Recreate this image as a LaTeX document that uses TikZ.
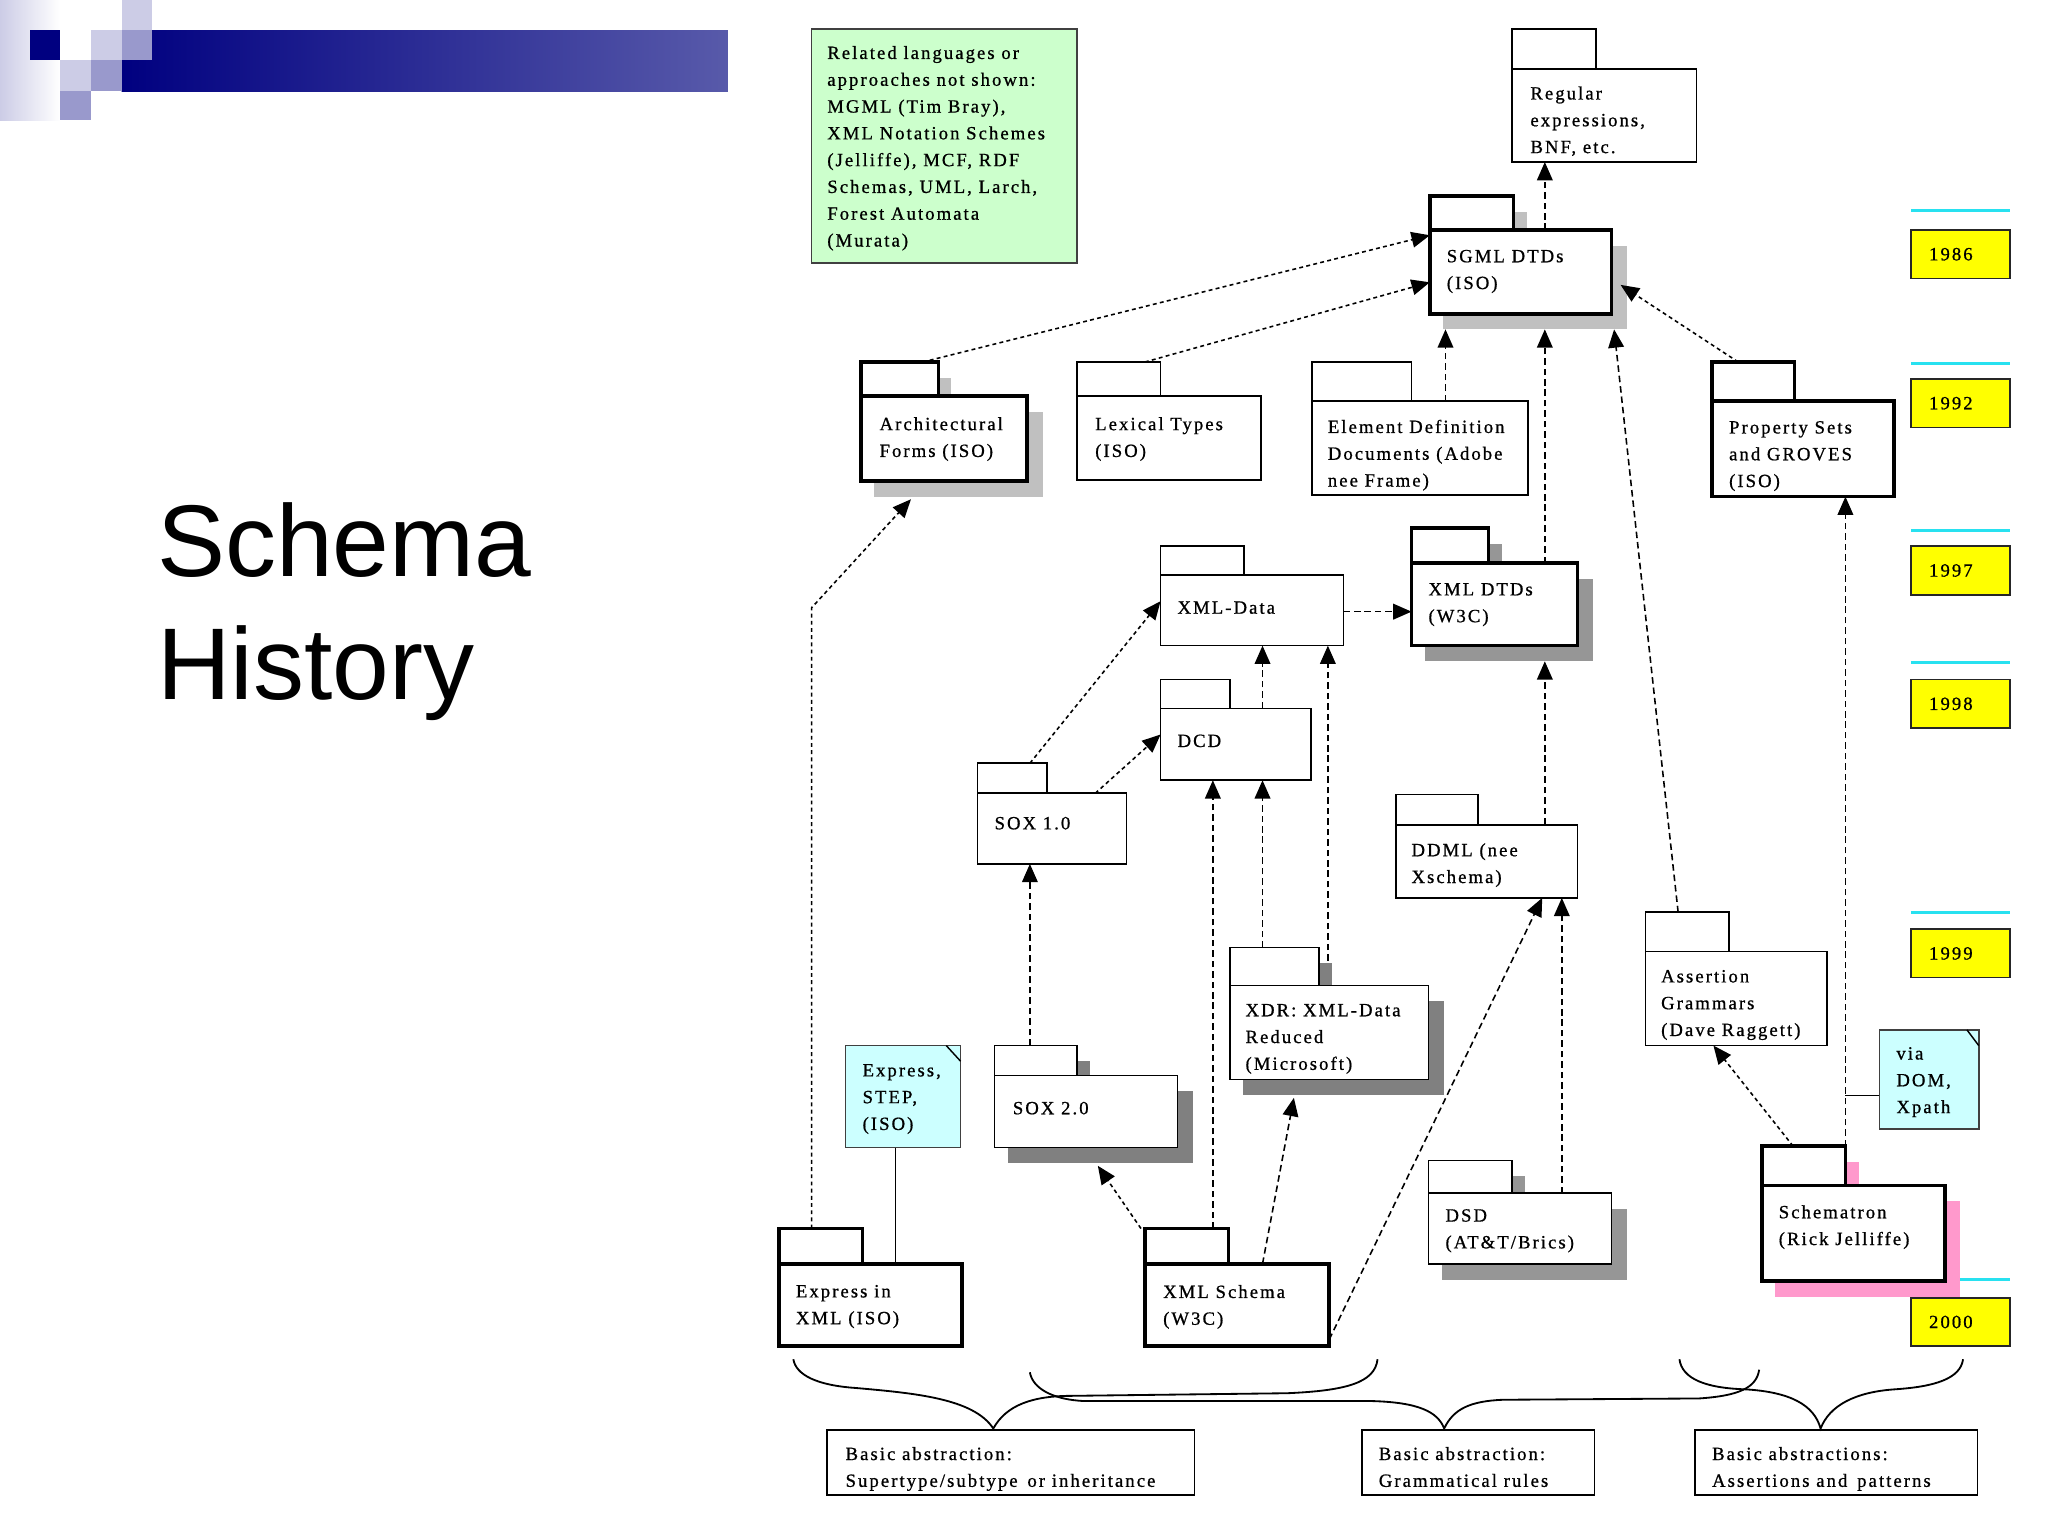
\documentclass[tikz,border=0pt]{standalone}
\usepackage{fontspec}
\setmainfont{Liberation Serif}
\newfontfamily\titlefont{Liberation Sans}
\newfontfamily\diafont[LetterSpace=11,FakeBold=0.8]{Liberation Serif}
\usetikzlibrary{arrows.meta,calc}
\definecolor{hdrnavy}{RGB}{0,0,128}
\definecolor{barend}{RGB}{88,90,170}
\definecolor{lav}{RGB}{204,204,230}
\definecolor{lavm}{RGB}{153,153,204}
\definecolor{notegreen}{RGB}{204,255,204}
\definecolor{notecyan}{RGB}{204,255,255}
\definecolor{yearyellow}{RGB}{255,255,0}
\definecolor{yearline}{RGB}{40,225,240}
\definecolor{shlight}{RGB}{192,192,192}
\definecolor{shmid}{RGB}{150,150,150}
\definecolor{shdark}{RGB}{128,128,128}
\definecolor{shpink}{RGB}{255,153,204}

\newcommand\pkgbox[9]{%
  \if\relax\detokenize{#9}\relax\else
    \fill[#9] (#2+10,#3+12) rectangle (#4+10,#5+12);
    \fill[#9] (#2+10,#5+12) rectangle (#6+12,#7+12);
  \fi
  \node[pkgpart,#8,anchor=north west,minimum width={(#4)-(#2)},minimum height={(#5)-(#3)}] (#1T) at (#2,#3) {};
  \node[pkgpart,#8,anchor=north west,minimum width={(#6)-(#2)},minimum height={(#7)-(#5)}] (#1) at (#2,#5) {};
}
\newcommand\pkglabel[4]{\node[lbl] (#1) at (#2,#3-4.8) {#4};}

\begin{document}
\begin{tikzpicture}[x=1pt,y=-1pt,
  pkgpart/.style={draw=black, fill=white, inner sep=0pt, outer sep=0pt, line width=1.3pt},
  heavy/.style={line width=2.8pt},
  plainbox/.style={draw=black, fill=white, inner sep=0pt, outer sep=0pt, line width=1.3pt},
  notebox/.style={draw=black!75, inner sep=0pt, outer sep=0pt, line width=1.3pt},
  lbl/.style={anchor=north west, inner sep=0pt, outer sep=0pt, align=left,
     font={\diafont\fontsize{14.3}{20.5}\selectfont}, execute at begin node=\strut},
  yearbox/.style={draw=black!85, fill=yearyellow, line width=1.3pt, anchor=north west,
     inner xsep=14pt, inner ysep=0pt, outer sep=0pt, text width=48pt, minimum height=37pt,
     align=left, font={\diafont\fontsize{14.3}{20.5}\selectfont}},
  yearrule/.style={draw=yearline, line width=2pt},
  dep/.style={dash pattern=on 5pt off 3pt, line width=1.2pt, -{Triangle[length=14pt,width=12pt]}},
  finedep/.style={dep, dash pattern=on 3pt off 2.5pt},
  link/.style={line width=1.1pt},
  brace/.style={line width=1.4pt}
]
\useasboundingbox (0,0) rectangle (1567,1175.25);

% ---------- header decoration ----------
\shade[left color=lav, right color=white] (0,0) rectangle (46,92);
\shade[left color=hdrnavy, right color=barend] (93,23) rectangle (557,70);
\fill[hdrnavy] (23,23) rectangle (46,46);
\fill[lav] (93,0) rectangle (116,23);
\fill[lav] (70,23) rectangle (93,46);
\fill[lavm] (93,23) rectangle (116,46);
\fill[lav] (46,46) rectangle (70,70);
\fill[lavm] (70,46) rectangle (93,70);
\fill[lavm] (46,70) rectangle (70,92);

% ---------- title ----------
\node[anchor=north west, inner sep=0pt, align=left,
      font={\titlefont\fontsize{78}{94}\selectfont}, execute at begin node=\strut]
      (title) at (120,450-65.8) {Schema\\History};

% ---------- year markers ----------
\draw[yearrule] (1462,161) -- (1538,161);
\draw[yearrule] (1462,278) -- (1538,278);
\draw[yearrule] (1462,406) -- (1538,406);
\draw[yearrule] (1462,507) -- (1538,507);
\draw[yearrule] (1462,698) -- (1538,698);
\draw[yearrule] (1462,979) -- (1538,979);
\node[yearbox] (y1986) at (1462,176) {1986};
\node[yearbox] (y1992) at (1462,290) {1992};
\node[yearbox] (y1997) at (1462,418) {1997};
\node[yearbox] (y1998) at (1462,520) {1998};
\node[yearbox] (y1999) at (1462,711) {1999};
\node[yearbox] (y2000) at (1462,993) {2000};

% ---------- notes ----------
\node[notebox, fill=notegreen, minimum width=203, minimum height=179, anchor=north west] (related) at (621,22) {};
\pkglabel{relatedtxt}{633}{40}{Related languages or\\approaches not shown:\\MGML (Tim Bray),\\XML Notation Schemes\\(Jelliffe), MCF, RDF\\Schemas, UML, Larch,\\Forest Automata\\(Murata)}

\node[notebox, fill=notecyan, minimum width=88, minimum height=78, anchor=north west] (expnote) at (647,800) {};
\draw[link] ($(expnote.north east)+(-11,0)$) -- ($(expnote.north east)+(0,12)$);
\pkglabel{expnotetxt}{660}{819}{Express,\\STEP,\\(ISO)}

\node[notebox, fill=notecyan, minimum width=76, minimum height=76, anchor=north west] (via) at (1438,788) {};
\draw[link] ($(via.north east)+(-9,0)$) -- ($(via.north east)+(0,12)$);
\pkglabel{viatxt}{1451}{806}{via\\DOM,\\Xpath}

% ---------- packages ----------
\pkgbox{regex}{1157}{22}{1221}{53}{1298}{124}{}{}
\pkglabel{regextxt}{1171}{71}{Regular\\expressions,\\BNF, etc.}

\pkgbox{sgml}{1094}{150}{1158}{176}{1233}{240}{heavy}{shlight}
\pkglabel{sgmltxt}{1107}{196}{SGML DTDs\\(ISO)}

\pkgbox{arch}{659}{277}{718}{303}{786}{368}{heavy}{shlight}
\pkglabel{archtxt}{673}{324}{Architectural\\Forms (ISO)}

\pkgbox{lex}{824}{277}{888}{303}{965}{367}{}{}
\pkglabel{lextxt}{838}{324}{Lexical Types\\(ISO)}

\pkgbox{edd}{1004}{277}{1080}{307}{1169}{379}{}{}
\pkglabel{eddtxt}{1016}{326}{Element Definition\\Documents (Adobe\\nee Frame)}

\pkgbox{prop}{1310}{277}{1373}{307}{1449}{380}{heavy}{}
\pkglabel{proptxt}{1323}{327}{Property Sets\\and GROVES\\(ISO)}

\pkgbox{xmldata}{888}{418}{952}{440}{1028}{494}{}{}
\pkglabel{xmldatatxt}{901}{460}{XML-Data}

\pkgbox{xmldtd}{1080}{404}{1139}{431}{1207}{494}{heavy}{shmid}
\pkglabel{xmldtdtxt}{1093}{451}{XML DTDs\\(W3C)}

\pkgbox{dcd}{888}{520}{941}{542}{1003}{597}{}{}
\pkglabel{dcdtxt}{901}{562}{DCD}

\pkgbox{sox1}{748}{584}{801}{607}{862}{661}{}{}
\pkglabel{sox1txt}{761}{625}{SOX 1.0}

\pkgbox{ddml}{1068}{608}{1131}{631}{1207}{687}{}{}
\pkglabel{ddmltxt}{1080}{650}{DDML (nee\\Xschema)}

\pkgbox{xdr}{941}{725}{1009}{754}{1093}{826}{}{shdark}
\pkglabel{xdrtxt}{953}{773}{XDR: XML-Data\\Reduced\\(Microsoft)}

\pkgbox{assert}{1259}{698}{1323}{728}{1398}{800}{}{}
\pkglabel{asserttxt}{1271}{747}{Assertion\\Grammars\\(Dave Raggett)}

\pkgbox{sox2}{761}{800}{824}{823}{901}{878}{}{shdark}
\pkglabel{sox2txt}{775}{843}{SOX 2.0}

\pkgbox{expxml}{596}{940}{660}{967}{736}{1030}{heavy}{}
\pkglabel{expxmltxt}{609}{988}{Express in\\XML (ISO)}

\pkgbox{xsd}{876}{940}{940}{967}{1017}{1030}{heavy}{}
\pkglabel{xsdtxt}{890}{988}{XML Schema\\(W3C)}

\pkgbox{dsd}{1093}{888}{1157}{913}{1233}{967}{}{shmid}
\pkglabel{dsdtxt}{1106}{930}{DSD\\(AT\&T/Brics)}

\pkgbox{sch}{1348}{877}{1412}{907}{1488}{980}{heavy}{shpink}
\pkglabel{schtxt}{1361}{927}{Schematron\\(Rick Jelliffe)}

% ---------- bottom boxes ----------
\node[plainbox, minimum width=281, minimum height=50, anchor=north west] (basic1) at (633,1094) {};
\pkglabel{basic1txt}{647}{1112}{Basic abstraction:\\Supertype/subtype\, or inheritance}
\node[plainbox, minimum width=178, minimum height=50, anchor=north west] (basic2) at (1042,1094) {};
\pkglabel{basic2txt}{1055}{1112}{Basic abstraction:\\Grammatical rules}
\node[plainbox, minimum width=216, minimum height=50, anchor=north west] (basic3) at (1297,1094) {};
\pkglabel{basic3txt}{1310}{1112}{Basic abstractions:\\Assertions and\, patterns}

% ---------- braces ----------
\draw[brace] (607,1040) .. controls (609,1052) and (625,1060) .. (655,1062)
  .. controls (700,1066) and (745,1070) .. (760,1093)
  .. controls (770,1075) and (790,1068) .. (820,1068) -- (985,1066)
  .. controls (1030,1064) and (1052,1058) .. (1054,1040);
\draw[brace] (788,1050) .. controls (790,1062) and (805,1071) .. (830,1072) -- (1050,1072)
  .. controls (1085,1073) and (1100,1080) .. (1105,1093)
  .. controls (1112,1078) and (1125,1072) .. (1150,1071) -- (1300,1070)
  .. controls (1330,1068) and (1344,1062) .. (1346,1048);
\draw[brace] (1285,1040) .. controls (1287,1055) and (1305,1062) .. (1335,1063)
  .. controls (1370,1065) and (1388,1075) .. (1393,1093)
  .. controls (1400,1075) and (1420,1065) .. (1450,1063)
  .. controls (1480,1061) and (1500,1055) .. (1502,1040);

% ---------- connectors ----------
\draw[dep] ($(sgml.north west)+(88,0)$) -- ($(regex.south west)+(25,0)$);
\draw[finedep] ($(archT.north west)+(47,0)$) -- ($(sgml.north west)+(0,4)$);
\draw[finedep] ($(lexT.north west)+(52,0)$) -- ($(sgml.north west)+(0,40)$);
\draw[dep] ($(edd.north west)+(102,0)$) -- ($(sgml.south west)+(12,12)$);
\draw[dep] ($(xmldtd.north west)+(102,0)$) -- ($(sgml.south west)+(88,12)$);
\draw[dep] ($(assertT.north west)+(25,0)$) -- ($(sgml.south east)+(2,12)$);
\draw[finedep] ($(propT.north west)+(20,0)$) -- ($(sgml.south east)+(7,-22)$);
\draw[finedep] ($(expxmlT.north west)+(25,0)$) -- ++(0,-475) -- ($(arch.south west)+(38,14)$);
\draw[dep] ($(xmldata.north east)+(0,28)$) -- ($(xmldtd.north west)+(0,37)$);
\draw[dep] ($(dcd.north west)+(78,0)$) -- ($(xmldata.south west)+(78,0)$);
\draw[dep] ($(xdrT.north east)+(7,10)$) -- ($(xmldata.south west)+(128,0)$);
\draw[dep] ($(xdrT.north west)+(25,0)$) -- ($(dcd.south west)+(78,0)$);
\draw[dep] ($(xsdT.north west)+(52,0)$) -- ($(dcd.south west)+(40,0)$);
\draw[finedep] ($(sox1T.north west)+(40,0)$) -- ($(xmldata.north west)+(0,20)$);
\draw[finedep] ($(sox1.north west)+(90,0)$) -- ($(dcd.north west)+(0,20)$);
\draw[dep] ($(sox2T.north west)+(27,0)$) -- ($(sox1.south west)+(40,0)$);
\draw[finedep] ($(xsdT.north west)+(-3,0)$) -- ($(sox2.south west)+(79,14)$);
\draw[dep] ($(xsd.north west)+(90,0)$) -- ($(xdr.south west)+(49,14)$);
\draw[dep] ($(xsd.south east)+(0,-5)$) -- ($(ddml.south west)+(112,0)$);
\draw[dep] ($(dsd.north west)+(102,0)$) -- ($(ddml.south west)+(127,0)$);
\draw[dep] ($(ddml.north west)+(114,0)$) -- ($(xmldtd.south west)+(102,12)$);
\draw[finedep] ($(schT.north west)+(24,0)$) -- ($(assert.south west)+(52,0)$);
\draw[dep] (schT.north east) -- ($(prop.south west)+(102,0)$);
\draw[link] ($(via.west)+(0,12)$) -- ($(via.west)+(-26,12)$);
\draw[link] ($(expnote.south west)+(38,0)$) -- ($(expxml.north west)+(89,0)$);
\end{tikzpicture}
\end{document}
